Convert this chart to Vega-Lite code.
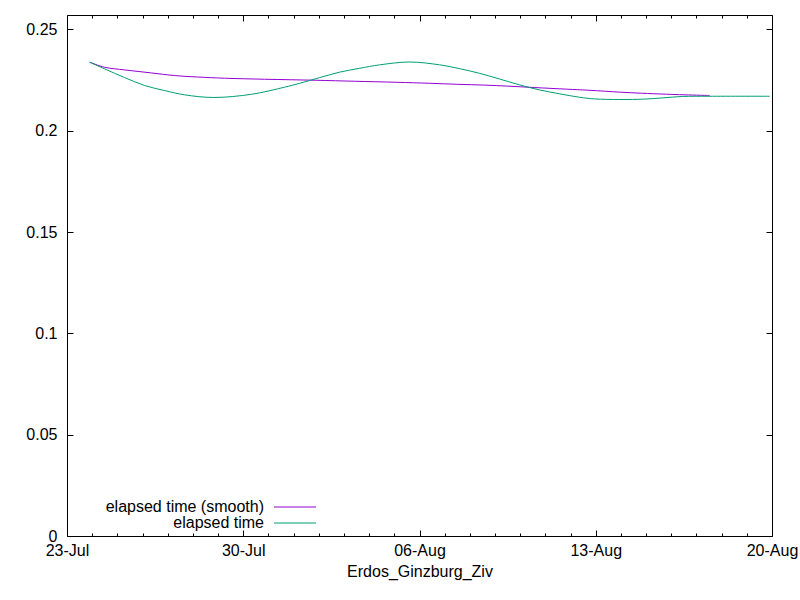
{
  "$schema": "https://vega.github.io/schema/vega-lite/v6.json",
  "width": 705,
  "height": 521,
  "autosize": {"type": "none"},
  "padding": {"left": 67, "top": 15, "right": 28, "bottom": 64},
  "background": "white",
  "data": {
    "values": [
      {"t": "2024-07-23T21:38:00Z", "v": 0.2338, "s": "elapsed time (smooth)"},
      {"t": "2024-07-24T11:56:00Z", "v": 0.2313, "s": "elapsed time (smooth)"},
      {"t": "2024-07-25T07:00:00Z", "v": 0.2300, "s": "elapsed time (smooth)"},
      {"t": "2024-07-26T08:44:00Z", "v": 0.2285, "s": "elapsed time (smooth)"},
      {"t": "2024-07-27T06:39:00Z", "v": 0.2272, "s": "elapsed time (smooth)"},
      {"t": "2024-07-28T04:34:00Z", "v": 0.2265, "s": "elapsed time (smooth)"},
      {"t": "2024-07-29T06:19:00Z", "v": 0.2259, "s": "elapsed time (smooth)"},
      {"t": "2024-07-30T20:26:00Z", "v": 0.2254, "s": "elapsed time (smooth)"},
      {"t": "2024-08-01T21:03:00Z", "v": 0.2249, "s": "elapsed time (smooth)"},
      {"t": "2024-08-03T10:13:00Z", "v": 0.2244, "s": "elapsed time (smooth)"},
      {"t": "2024-08-05T02:15:00Z", "v": 0.2239, "s": "elapsed time (smooth)"},
      {"t": "2024-08-06T09:42:00Z", "v": 0.2234, "s": "elapsed time (smooth)"},
      {"t": "2024-08-07T12:23:00Z", "v": 0.2229, "s": "elapsed time (smooth)"},
      {"t": "2024-08-08T14:08:00Z", "v": 0.2225, "s": "elapsed time (smooth)"},
      {"t": "2024-08-09T12:03:00Z", "v": 0.2220, "s": "elapsed time (smooth)"},
      {"t": "2024-08-10T13:47:00Z", "v": 0.2213, "s": "elapsed time (smooth)"},
      {"t": "2024-08-11T20:17:00Z", "v": 0.2205, "s": "elapsed time (smooth)"},
      {"t": "2024-08-12T16:18:00Z", "v": 0.2200, "s": "elapsed time (smooth)"},
      {"t": "2024-08-13T08:30:00Z", "v": 0.2195, "s": "elapsed time (smooth)"},
      {"t": "2024-08-13T23:45:00Z", "v": 0.2190, "s": "elapsed time (smooth)"},
      {"t": "2024-08-14T19:46:00Z", "v": 0.2185, "s": "elapsed time (smooth)"},
      {"t": "2024-08-15T19:36:00Z", "v": 0.2180, "s": "elapsed time (smooth)"},
      {"t": "2024-08-17T03:03:00Z", "v": 0.2175, "s": "elapsed time (smooth)"},
      {"t": "2024-08-17T12:35:00Z", "v": 0.2174, "s": "elapsed time (smooth)"},
      {"t": "2024-07-23T21:38:00Z", "v": 0.2338, "s": "elapsed time"},
      {"t": "2024-07-24T11:56:00Z", "v": 0.2305, "s": "elapsed time"},
      {"t": "2024-07-25T07:00:00Z", "v": 0.2262, "s": "elapsed time"},
      {"t": "2024-07-26T02:04:00Z", "v": 0.2223, "s": "elapsed time"},
      {"t": "2024-07-26T21:07:00Z", "v": 0.2198, "s": "elapsed time"},
      {"t": "2024-07-27T16:11:00Z", "v": 0.2177, "s": "elapsed time"},
      {"t": "2024-07-28T20:00:00Z", "v": 0.2164, "s": "elapsed time"},
      {"t": "2024-07-30T08:03:00Z", "v": 0.2180, "s": "elapsed time"},
      {"t": "2024-07-31T15:30:00Z", "v": 0.2215, "s": "elapsed time"},
      {"t": "2024-08-01T05:48:00Z", "v": 0.2234, "s": "elapsed time"},
      {"t": "2024-08-02T00:51:00Z", "v": 0.2262, "s": "elapsed time"},
      {"t": "2024-08-02T19:55:00Z", "v": 0.2289, "s": "elapsed time"},
      {"t": "2024-08-03T14:59:00Z", "v": 0.2308, "s": "elapsed time"},
      {"t": "2024-08-04T10:03:00Z", "v": 0.2325, "s": "elapsed time"},
      {"t": "2024-08-05T14:38:00Z", "v": 0.2339, "s": "elapsed time"},
      {"t": "2024-08-06T19:14:00Z", "v": 0.2325, "s": "elapsed time"},
      {"t": "2024-08-07T14:18:00Z", "v": 0.2306, "s": "elapsed time"},
      {"t": "2024-08-08T09:22:00Z", "v": 0.2283, "s": "elapsed time"},
      {"t": "2024-08-09T04:25:00Z", "v": 0.2255, "s": "elapsed time"},
      {"t": "2024-08-09T23:29:00Z", "v": 0.2226, "s": "elapsed time"},
      {"t": "2024-08-10T18:33:00Z", "v": 0.2201, "s": "elapsed time"},
      {"t": "2024-08-11T13:37:00Z", "v": 0.2182, "s": "elapsed time"},
      {"t": "2024-08-12T08:40:00Z", "v": 0.2165, "s": "elapsed time"},
      {"t": "2024-08-12T22:58:00Z", "v": 0.2157, "s": "elapsed time"},
      {"t": "2024-08-13T22:48:00Z", "v": 0.2154, "s": "elapsed time"},
      {"t": "2024-08-14T22:38:00Z", "v": 0.2156, "s": "elapsed time"},
      {"t": "2024-08-15T15:47:00Z", "v": 0.2162, "s": "elapsed time"},
      {"t": "2024-08-16T10:51:00Z", "v": 0.2169, "s": "elapsed time"},
      {"t": "2024-08-17T12:00:00Z", "v": 0.2170, "s": "elapsed time"},
      {"t": "2024-08-19T21:46:00Z", "v": 0.2170, "s": "elapsed time"}
    ]
  },
  "layer": [
    {
      "mark": {"type": "line", "strokeWidth": 1, "interpolate": "catmull-rom"},
      "encoding": {
        "x": {
          "field": "t",
          "type": "temporal",
          "scale": {"type": "utc", "domain": [1721692800000, 1724112000000]},
          "axis": {
            "orient": "bottom",
            "title": "Erdos_Ginzburg_Ziv",
            "format": "%d-%b",
            "values": [1721692800000, 1721779200000, 1721865600000, 1721952000000, 1722038400000, 1722124800000, 1722211200000, 1722297600000, 1722384000000, 1722470400000, 1722556800000, 1722643200000, 1722729600000, 1722816000000, 1722902400000, 1722988800000, 1723075200000, 1723161600000, 1723248000000, 1723334400000, 1723420800000, 1723507200000, 1723593600000, 1723680000000, 1723766400000, 1723852800000, 1723939200000, 1724025600000, 1724112000000],
            "labelExpr": "(time(datum.value) - 1721692800000) % 604800000 == 0 ? datum.label : ''",
            "tickSize": {"condition": {"test": "(time(datum.value) - 1721692800000) % 604800000 == 0", "value": -6}, "value": -3},
            "labelFlush": false,
            "labelPadding": 12,
            "titlePadding": 5
          }
        },
        "y": {
          "field": "v",
          "type": "quantitative",
          "scale": {"domain": [0, 0.2571], "nice": false, "zero": false},
          "axis": {
            "orient": "left",
            "title": null,
            "values": [0, 0.05, 0.1, 0.15, 0.2, 0.25],
            "format": ".2~f",
            "tickSize": -6,
            "labelFlush": false,
            "labelPadding": 16
          }
        },
        "color": {
          "field": "s",
          "type": "nominal",
          "scale": {"domain": ["elapsed time (smooth)", "elapsed time"], "range": ["#9400d3", "#009e73"]},
          "legend": {
            "orient": "none",
            "legendX": 220,
            "legendY": 484,
            "title": null,
            "padding": 0,
            "rowPadding": 0,
            "symbolType": "M-4.2,0H4.2",
            "symbolSize": 100,
            "symbolStrokeWidth": 1,
            "labelAlign": "right",
            "labelOffset": -39,
            "labelFontSize": 16,
            "labelFont": "Liberation Sans",
            "labelColor": "black",
            "labelLimit": 400
          }
        }
      }
    },
    {
      "mark": {"type": "line", "opacity": 0},
      "encoding": {
        "x": {
          "field": "t",
          "type": "temporal",
          "scale": {"type": "utc", "domain": [1721692800000, 1724112000000]},
          "axis": {
            "orient": "top",
            "title": null,
            "labels": false,
            "values": [1721692800000, 1721779200000, 1721865600000, 1721952000000, 1722038400000, 1722124800000, 1722211200000, 1722297600000, 1722384000000, 1722470400000, 1722556800000, 1722643200000, 1722729600000, 1722816000000, 1722902400000, 1722988800000, 1723075200000, 1723161600000, 1723248000000, 1723334400000, 1723420800000, 1723507200000, 1723593600000, 1723680000000, 1723766400000, 1723852800000, 1723939200000, 1724025600000, 1724112000000],
            "tickSize": {"condition": {"test": "(time(datum.value) - 1721692800000) % 604800000 == 0", "value": -6}, "value": -3}
          }
        },
        "y": {
          "field": "v",
          "type": "quantitative",
          "scale": {"domain": [0, 0.2571], "nice": false, "zero": false},
          "axis": {
            "orient": "right",
            "title": null,
            "labels": false,
            "values": [0, 0.05, 0.1, 0.15, 0.2, 0.25],
            "tickSize": -6
          }
        },
        "detail": {"field": "s"}
      }
    }
  ],
  "resolve": {
    "scale": {"x": "independent", "y": "independent"},
    "axis": {"x": "independent", "y": "independent"}
  },
  "config": {
    "view": {"stroke": "black", "strokeWidth": 1},
    "axis": {
      "domain": false,
      "grid": false,
      "tickColor": "black",
      "tickWidth": 1,
      "labelFont": "Liberation Sans",
      "labelFontSize": 16,
      "labelColor": "black",
      "titleFont": "Liberation Sans",
      "titleFontSize": 16,
      "titleFontWeight": "normal",
      "titleColor": "black"
    }
  }
}
